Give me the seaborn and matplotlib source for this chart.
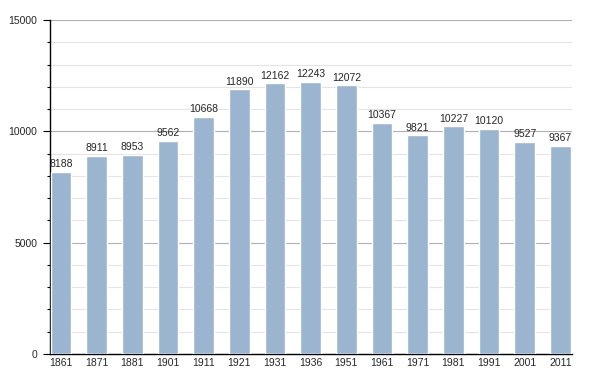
import matplotlib
matplotlib.use("Agg")
import matplotlib.pyplot as plt
import seaborn as sns
import pandas as pd
from matplotlib.ticker import MultipleLocator

# ==============================
# DATA
# ==============================
years = ['1861', '1871', '1881', '1901', '1911', '1921', '1931', '1936',
         '1951', '1961', '1971', '1981', '1991', '2001', '2011']
population = [8188, 8911, 8953, 9562, 10668, 11890, 12162, 12243,
              12072, 10367, 9821, 10227, 10120, 9527, 9367]

df = pd.DataFrame({'year': years, 'pop': population})

sns.set_style("white")
plt.rcParams['font.family'] = ['Liberation Sans', 'DejaVu Sans']

fig = plt.figure(figsize=(6, 3.73), dpi=100)
ax = fig.add_axes([0.083, 0.051, 0.87, 0.895])

sns.barplot(data=df, x='year', y='pop', color='#9bb4cf', saturation=1,
            width=0.58, ax=ax, zorder=3)

# valeurs au-dessus des barres
for container in ax.containers:
    ax.bar_label(container, fmt='%d', fontsize=7.5, padding=2)

ax.set_ylim(0, 15000)
ax.set_xlim(-0.31, 14.32)
ax.yaxis.set_major_locator(MultipleLocator(5000))
ax.yaxis.set_minor_locator(MultipleLocator(1000))

ax.grid(which='major', axis='y', color='#b0b0b0', linewidth=0.8, zorder=0)
ax.grid(which='minor', axis='y', color='#e4e4e4', linewidth=0.8, zorder=0)
ax.set_axisbelow(True)

for s in ['top', 'right']:
    ax.spines[s].set_visible(False)
for s in ['left', 'bottom']:
    ax.spines[s].set_color('black')
    ax.spines[s].set_linewidth(1)

ax.tick_params(axis='y', which='major', left=True, length=5, width=0.8,
               labelsize=7.5, pad=4, color='black')
ax.tick_params(axis='y', which='minor', left=True, length=2, width=0.8,
               color='black')
ax.tick_params(axis='x', length=0, labelsize=7.5, pad=3)

ax.set_xlabel('')
ax.set_ylabel('')

fig.savefig('out.png', dpi=100)
